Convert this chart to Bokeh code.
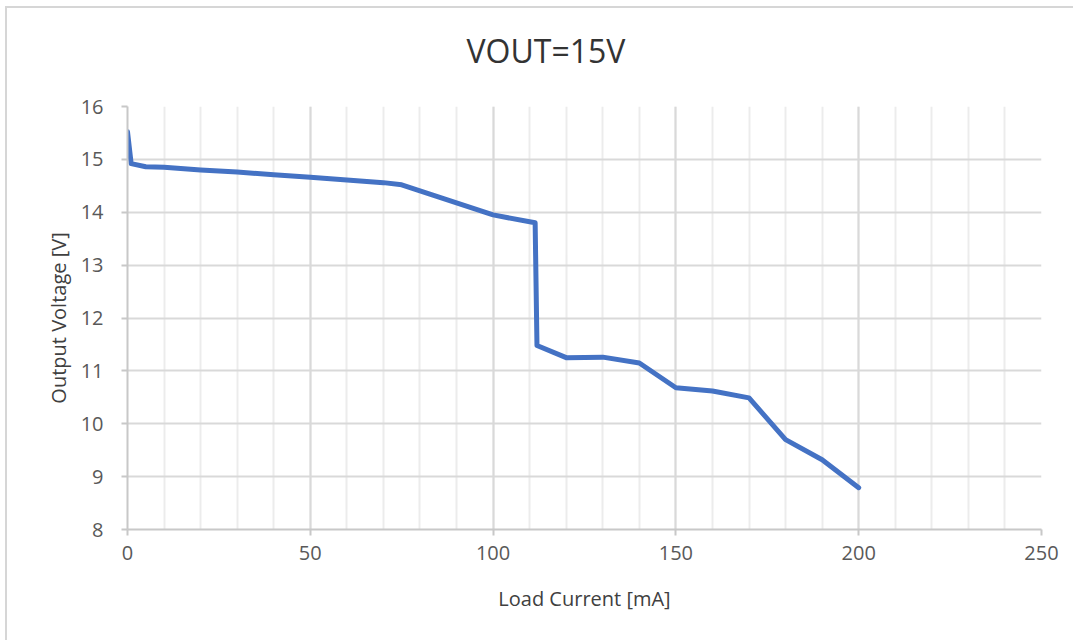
from bokeh.plotting import figure
from bokeh.models import ColumnDataSource, FixedTicker, Range1d, Title
from bokeh.embed import file_html
from bokeh.resources import INLINE

# Load regulation measurement, VOUT = 15 V
load_current_ma = [0, 1, 5, 10, 20, 30, 40, 50, 60, 70, 75, 100, 111.5, 112,
                   120, 130, 140, 150, 160, 170, 180, 190, 200]
output_voltage_v = [15.52, 14.92, 14.86, 14.85, 14.80, 14.76, 14.71, 14.66,
                    14.61, 14.56, 14.52, 13.95, 13.80, 11.48, 11.25, 11.26,
                    11.15, 10.68, 10.62, 10.49, 9.70, 9.32, 8.79]

x_ticks = [0, 50, 100, 150, 200, 250]
x_minor = [v for v in range(0, 251, 10)]
y_ticks = [8, 9, 10, 11, 12, 13, 14, 15, 16]

FONT = "Open Sans"
TEXT = "#595959"

# outer offset of the chart area (left / top border lines)
OFF_X, OFF_Y = 7, 8

source = ColumnDataSource(dict(x=load_current_ma, y=output_voltage_v))

p = figure(width=1073 - OFF_X, height=641 - OFF_Y,
           output_backend="svg", toolbar_location=None,
           x_range=Range1d(0, 250), y_range=Range1d(8, 16),
           min_border_left=127 - OFF_X, min_border_right=32,
           min_border_top=0, min_border_bottom=111,
           frame_width=914, frame_height=423)

p.styles = {"margin-left": f"{OFF_X - 2}px", "margin-top": f"{OFF_Y - 2}px",
            "border-left": "2px solid #d6d6d6",
            "border-top": "2px solid #d6d6d6"}

p.background_fill_color = "white"
p.border_fill_color = "white"
p.outline_line_color = None

p.line("x", "y", source=source, line_color="#4472C4", line_width=5,
       line_join="round", line_cap="round")

# axes
p.xaxis.ticker = FixedTicker(ticks=x_ticks, minor_ticks=x_minor)
p.yaxis.ticker = FixedTicker(ticks=y_ticks, minor_ticks=[])
for ax in (p.xaxis[0], p.yaxis[0]):
    ax.axis_line_color = "#c8c8c8"
    ax.axis_line_width = 2
    ax.major_tick_line_color = "#c8c8c8"
    ax.major_tick_line_width = 2
    ax.major_tick_out = 6
    ax.major_tick_in = 0
    ax.minor_tick_line_color = None
    ax.major_label_text_font = FONT
    ax.major_label_text_font_size = "20px"
    ax.major_label_text_color = TEXT
    ax.axis_label_text_font = FONT
    ax.axis_label_text_font_size = "20px"
    ax.axis_label_text_font_style = "normal"
    ax.axis_label_text_color = "#404040"

p.xaxis.axis_label = "Load Current [mA]"
p.yaxis.axis_label = "Output Voltage [V]"
p.xaxis.major_label_standoff = 10
p.xaxis.axis_label_standoff = 22
p.yaxis.major_label_standoff = 18
p.yaxis.axis_label_standoff = 6

# grid
p.xgrid.ticker = FixedTicker(ticks=x_ticks, minor_ticks=x_minor)
p.ygrid.ticker = FixedTicker(ticks=y_ticks)
p.xgrid.grid_line_color = "#d9d9d9"
p.xgrid.grid_line_width = 2
p.xgrid.minor_grid_line_color = "#ececec"
p.xgrid.minor_grid_line_width = 2
p.ygrid.grid_line_color = "#d9d9d9"
p.ygrid.grid_line_width = 2

# chart title, with blank spacers below and above it
p.title = None
spacer_below = Title(text=" ", text_font=FONT, text_font_size="13px")
p.add_layout(spacer_below, "above")
title = Title(text="VOUT=15V", text_font=FONT, text_font_size="32px",
              text_font_style="normal", text_color="#333333",
              align="left", offset=339)
p.add_layout(title, "above")
spacer_above = Title(text=" ", text_font=FONT, text_font_size="1px")
p.add_layout(spacer_above, "above")

open("out.html", "w").write(file_html(p, INLINE))
